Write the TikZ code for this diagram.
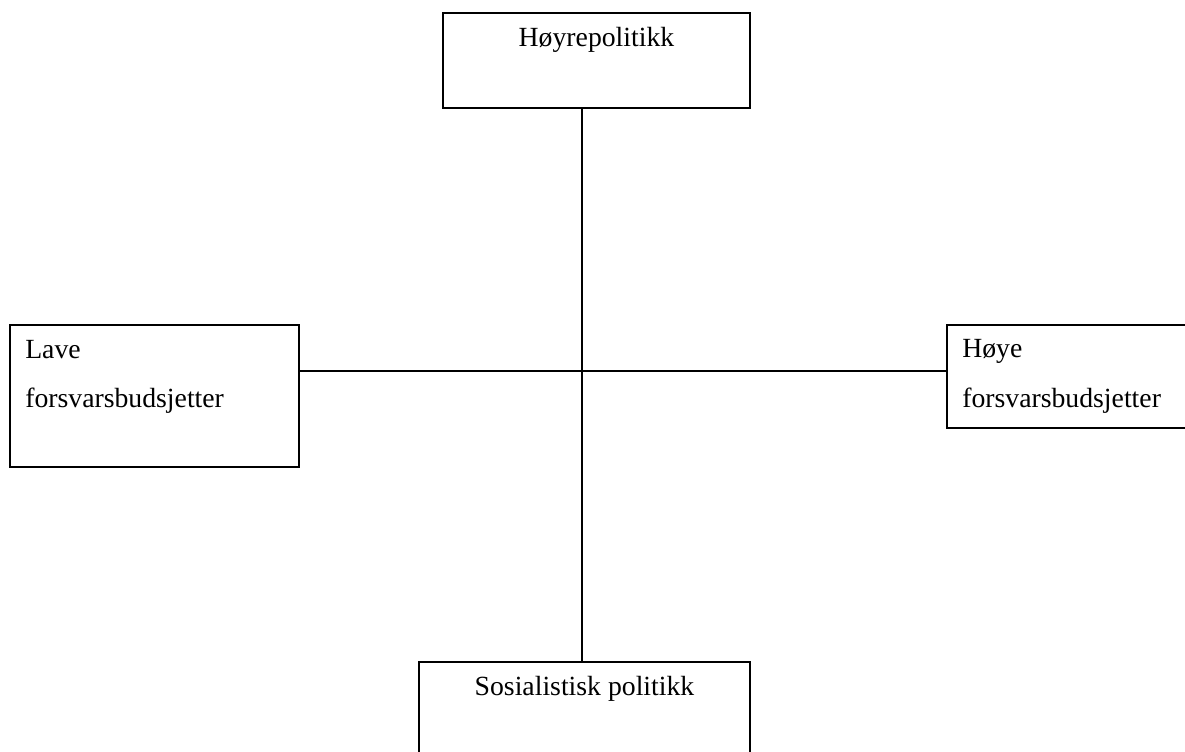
\documentclass[tikz,border=0pt]{standalone}
\usepackage{fontspec}
\setmainfont{Liberation Serif}
\begin{document}
\begin{tikzpicture}[x=0.75pt,y=-0.75pt,
  box/.style={draw=black,line width=1.3pt,rectangle,inner sep=0pt},
  lbl/.style={inner sep=0pt,font=\fontsize{20.8}{25}\selectfont},
  conn/.style={draw=black,line width=1.3pt}]
\useasboundingbox (0,0) rectangle (1185,751);
\clip (0,0) rectangle (1185,751);
% the four boxes
\node[box,minimum width=230.25pt,minimum height=71.25pt] (top) at (596.5,60.5) {};
\node[box,minimum width=216.75pt,minimum height=106.5pt] (left) at (154.5,396) {};
\node[box,minimum width=189.75pt,minimum height=77.25pt] (right) at (1073.5,376.5) {};
\node[box,minimum width=248.25pt,minimum height=88.5pt] (bot) at (584.5,721) {};
% their texts
\node[lbl,anchor=base] (ttop) at (596.5,46) {Høyrepolitikk};
\node[lbl,anchor=base west] (tl1) at (25,358) {Lave};
\node[lbl,anchor=base west] (tl2) at (25,407) {forsvarsbudsjetter};
\node[lbl,anchor=base west] (tr1) at (962,357) {Høye};
\node[lbl,anchor=base west] (tr2) at (962,407) {forsvarsbudsjetter};
\node[lbl,anchor=base] (tbot) at (584.5,695) {Sosialistisk politikk};
% the two axes
\coordinate (c) at (582,371);
\draw[conn] (c |- top.south) -- (c |- bot.north);
\draw[conn] (left.east |- c) -- (right.west |- c);
\end{tikzpicture}
\end{document}
